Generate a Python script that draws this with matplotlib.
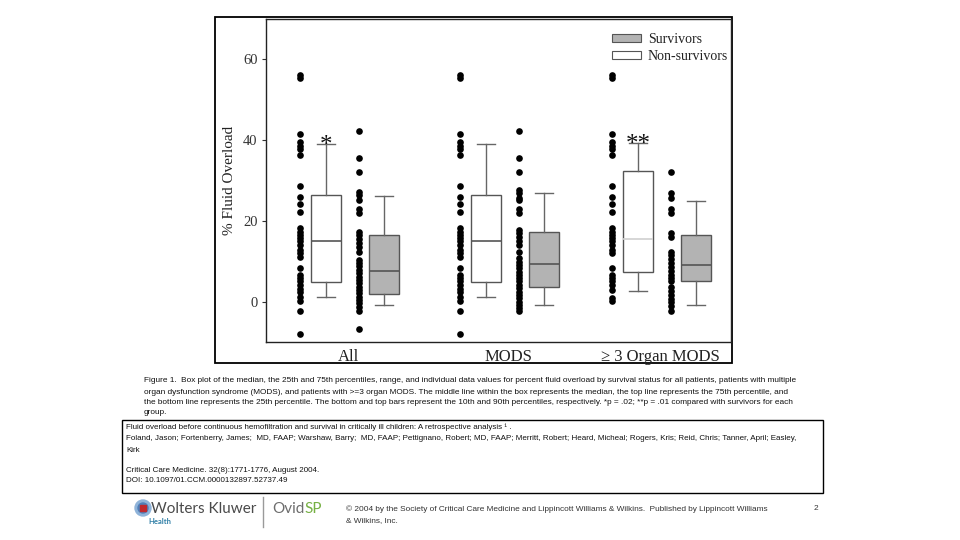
import matplotlib
matplotlib.use("Agg")
import matplotlib.pyplot as plt
from matplotlib.patches import Rectangle, Circle, Patch

# ---- data ----
groups = ["All", "MODS", "\u2265 3 Organ MODS"]
group_x = [0.0, 1.0, 1.95]

# box stats: 10th, 25th, median, 75th, 90th percentiles
ns_p10 = [1.1, 1.1, 2.6]
ns_q1 = [4.8, 4.8, 7.3]
ns_med = [15.1, 15.1, 15.4]
ns_q3 = [26.4, 26.4, 32.4]
ns_p90 = [39.0, 39.0, 39.4]

s_p10 = [-0.9, -0.9, -0.9]
s_q1 = [1.9, 3.5, 5.0]
s_med = [7.7, 9.2, 9.1]
s_q3 = [16.6, 17.2, 16.6]
s_p90 = [26.2, 26.8, 25.0]

# individual values
all_ns = [56.1, 55.3, 41.5, 39.6, 38.6, 37.8, 36.3, 28.6, 25.8, 24.1, 22.3, 18.2,
          17.3, 16.5, 15.7, 14.9, 14.0, 12.8, 12.0, 11.1, 8.3, 6.6, 5.8, 5.0, 4.1,
          3.1, 2.3, 1.1, 0.2, -2.2, -8.0]
mods_ns = [56.1, 55.3, 41.5, 39.6, 38.6, 37.8, 36.3, 28.6, 25.8, 24.1, 22.3, 18.2,
           17.3, 16.5, 15.7, 14.9, 14.0, 12.8, 12.0, 11.1, 8.3, 6.6, 5.8, 5.0, 4.1,
           3.1, 2.3, 1.1, 0.2, -2.2, -8.0]
org3_ns = [56.1, 55.3, 41.5, 39.6, 38.6, 37.8, 36.3, 28.6, 25.8, 24.1, 22.3, 18.2,
           17.3, 16.5, 15.7, 14.9, 14.0, 12.8, 12.0, 8.3, 6.6, 5.8, 5.0, 4.0, 2.9,
           1.0, 0.2]
all_s = [42.3, 35.5, 32.1, 27.2, 26.4, 25.2, 22.9, 22.0, 17.3, 16.5, 15.5, 14.4,
         13.5, 12.2, 10.3, 9.5, 8.7, 7.8, 7.0, 6.2, 5.4, 4.5, 3.7, 2.9, 2.1, 1.2,
         0.4, -0.4, -1.4, -2.2, -6.8]
mods_s = [42.3, 35.5, 32.1, 27.6, 26.8, 25.7, 25.2, 22.9, 22.0, 17.7, 16.9, 16.1,
          15.1, 14.0, 12.4, 10.7, 9.9, 9.1, 8.3, 7.4, 6.6, 5.8, 5.0, 4.1, 3.3, 2.5,
          1.7, 0.8, 0.0, -0.8, -1.7, -2.2]
org3_s = [32.1, 26.8, 25.7, 22.9, 22.0, 16.9, 16.1, 12.4, 11.6, 10.5, 9.5, 8.5,
          7.7, 6.6, 5.8, 5.0, 3.7, 2.6, 1.7, 0.7, -0.2, -1.2, -2.2]

ns_points = [all_ns, mods_ns, org3_ns]
s_points = [all_s, mods_s, org3_s]
stars = ["*", "", "**"]

caption = [
    "Figure 1.  Box plot of the median, the 25th and 75th percentiles, range, and individual data values for percent fluid overload by survival status for all patients, patients with multiple",
    "organ dysfunction syndrome (MODS), and patients with >=3 organ MODS. The middle line within the box represents the median, the top line represents the 75th percentile, and",
    "the bottom line represents the 25th percentile. The bottom and top bars represent the 10th and 90th percentiles, respectively. *p = .02; **p = .01 compared with survivors for each",
    "group.",
]
citation = [
    "Fluid overload before continuous hemofiltration and survival in critically ill children: A retrospective analysis \u00b9 .",
    "Foland, Jason; Fortenberry, James;  MD, FAAP; Warshaw, Barry;  MD, FAAP; Pettignano, Robert; MD, FAAP; Merritt, Robert; Heard, Micheal; Rogers, Kris; Reid, Chris; Tanner, April; Easley,",
    "Kirk",
    "",
    "Critical Care Medicine. 32(8):1771-1776, August 2004.",
    "DOI: 10.1097/01.CCM.0000132897.52737.49",
]
copyright_lines = [
    "\u00a9 2004 by the Society of Critical Care Medicine and Lippincott Williams & Wilkins.  Published by Lippincott Williams",
    "& Wilkins, Inc.",
]

serif = ["Liberation Serif", "DejaVu Serif"]
narrow = ["Liberation Sans Narrow", "Liberation Sans", "DejaVu Sans"]

fig = plt.figure(figsize=(9.6, 5.4), dpi=100)
W, H = 960, 540

# page layer in pixel coordinates
bg = fig.add_axes([0, 0, 1, 1])
bg.set_xlim(0, W)
bg.set_ylim(H, 0)
bg.axis("off")

# frame around the chart image
bg.add_patch(Rectangle((215, 17), 517, 346, fill=False, ec="black", lw=1.3))

# ---- chart ----
ax_l, ax_r, ax_t, ax_b = 266, 731, 19, 342
ax = fig.add_axes([ax_l / W, 1 - ax_b / H, (ax_r - ax_l) / W, (ax_b - ax_t) / H])

off_dots_ns, off_box_ns, off_dots_s, off_box_s = -0.30, -0.1375, 0.069, 0.225

def stats(lo, q1, med, q3, hi):
    return [dict(whislo=a, q1=b, med=c, q3=d, whishi=e, fliers=[])
            for a, b, c, d, e in zip(lo, q1, med, q3, hi)]

common = dict(widths=0.19, capwidths=0.11, patch_artist=True, showfliers=False,
              whiskerprops=dict(color="#666666", lw=1),
              capprops=dict(color="#666666", lw=1),
              medianprops=dict(color="#555555", lw=1.2))

bp_ns = ax.bxp(stats(ns_p10, ns_q1, ns_med, ns_q3, ns_p90),
               positions=[g + off_box_ns for g in group_x],
               boxprops=dict(facecolor="white", edgecolor="#555555", lw=1), **common)
bp_s = ax.bxp(stats(s_p10, s_q1, s_med, s_q3, s_p90),
              positions=[g + off_box_s for g in group_x],
              boxprops=dict(facecolor="#b3b3b3", edgecolor="#555555", lw=1), **common)
bp_ns["medians"][2].set_color("#d0d0d0")

for g, ns, s in zip(group_x, ns_points, s_points):
    ax.plot([g + off_dots_ns] * len(ns), ns, "o", color="black", ms=4.8, mec="none")
    ax.plot([g + off_dots_s] * len(s), s, "o", color="black", ms=4.8, mec="none")

for g, st, top in zip(group_x, stars, ns_p90):
    if st:
        ax.text(g + off_box_ns, top - 2.0, st, ha="center", va="baseline",
                fontsize=18, family=serif, color="#111111")

ax.set_xlim(-0.514, 2.394)
ax.set_ylim(-10, 70)
ax.set_yticks([0, 20, 40, 60])
ax.set_xticks(group_x)
ax.set_xticklabels(groups)
ax.tick_params(axis="x", length=0, pad=5, labelsize=12, labelcolor="#222222")
ax.tick_params(axis="y", length=3, width=0.8, pad=3, labelsize=10.5,
               labelcolor="#333333", color="#333333")
for lab in ax.get_xticklabels() + ax.get_yticklabels():
    lab.set_family(serif)
ax.set_ylabel("% Fluid Overload", family=serif, fontsize=11, color="#222222", labelpad=5)
for side in ["left", "bottom", "right", "top"]:
    ax.spines[side].set_linewidth(1.0)
    ax.spines[side].set_color("#222222")

handles = [Patch(facecolor="#b3b3b3", edgecolor="#555555", lw=0.8, label="Survivors"),
           Patch(facecolor="white", edgecolor="#555555", lw=0.8, label="Non-survivors")]
leg = ax.legend(handles=handles, loc="upper right", bbox_to_anchor=(1.0, 0.965),
                frameon=False, prop=dict(family=serif, size=10),
                handlelength=2.1, handleheight=0.5, handletextpad=0.5, labelspacing=0.25,
                borderaxespad=0.0, borderpad=0.2)
for t in leg.get_texts():
    t.set_color("#222222")

# ---- caption and citation ----
renderer = fig.canvas.get_renderer()

def fit_size(txt, width_px):
    w = txt.get_window_extent(renderer).width
    return txt.get_fontsize() * width_px / w

cap_y = [381, 392, 402, 412]
cap_texts = [bg.text(144, y, line, fontsize=6, family=narrow, color="#111111", va="center")
             for y, line in zip(cap_y, caption)]
cap_size = fit_size(cap_texts[0], 656)
for t in cap_texts:
    t.set_fontsize(cap_size)

bg.add_patch(Rectangle((122, 420), 701, 73, fill=False, ec="black", lw=1.0))
cit_y = [427, 439, 450, 460, 470, 481]
cit_texts = [bg.text(126, y, line, fontsize=6, family=narrow, color="#111111", va="center")
             for y, line in zip(cit_y, citation)]
cit_size = fit_size(cit_texts[1], 683)
for t in cit_texts:
    t.set_fontsize(cit_size)

# ---- footer ----
bg.add_patch(Circle((143, 508), 8, color="#8fb3d9", zorder=2))
bg.add_patch(Circle((143, 508), 5, color="#4f7fb8", zorder=3))
bg.add_patch(Rectangle((140, 505), 6, 6, color="#c0282d", zorder=4))
bg.text(151, 509, "Wolters Kluwer", fontsize=11, family=["Lato", "DejaVu Sans"],
        color="#4a4a4a", va="center")
bg.text(148, 521, "Health", fontsize=5.5, family=["Lato", "DejaVu Sans"],
        color="#2f7fa6", va="center", weight="bold")
bg.plot([263, 263], [497, 527], color="#9a9a9a", lw=1)
ovid = bg.text(272, 509, "Ovid", fontsize=11, family=["Lato", "DejaVu Sans"],
               color="#6d6d6d", va="center")
bb = ovid.get_window_extent(renderer)
bg.text(272 + bb.width, 509, "SP", fontsize=11, family=["Lato", "DejaVu Sans"],
        color="#76b043", va="center")

cr_texts = [bg.text(346, y, line, fontsize=6, family=narrow, color="#333333", va="center")
            for y, line in zip([509, 521], copyright_lines)]
cr_size = fit_size(cr_texts[0], 427)
for t in cr_texts:
    t.set_fontsize(cr_size)
bg.text(814, 509, "2", fontsize=cr_size, family=narrow, color="#333333", va="center")

fig.savefig("out.png", dpi=100)
